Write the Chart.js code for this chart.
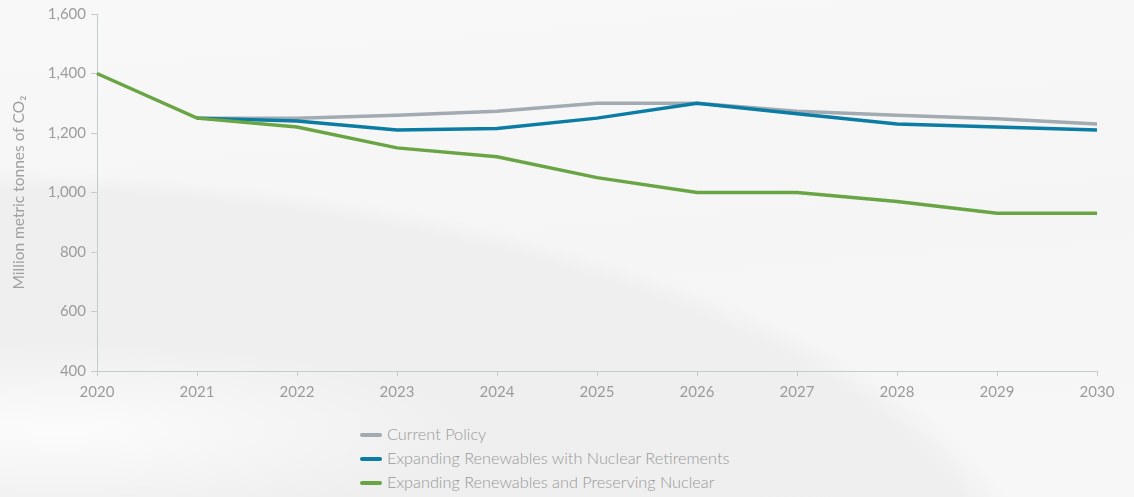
<!DOCTYPE html>
<html>
<head>
<meta charset="utf-8">
<script src="https://cdn.jsdelivr.net/npm/chart.js@4/dist/chart.umd.min.js"></script>
<style>
  html, body { margin: 0; padding: 0; }
  body {
    width: 1134px; height: 497px; overflow: hidden;
    background:
      radial-gradient(ellipse 420px 90px at 60px 430px, rgba(255,255,255,0.8) 0%, rgba(255,255,255,0) 100%),
      radial-gradient(ellipse 1100px 450px at -50px 620px, #eeeeee 0%, #efefef 96%, rgba(239,239,239,0) 100%),
      linear-gradient(175deg, #f8f8f8 0%, #f5f5f5 50%, #f7f7f7 100%);
    font-family: Lato, "Open Sans", sans-serif;
    position: relative;
  }
  #wrap { position: absolute; left: 0; top: 0; width: 1134px; height: 408px; }
  #legend { position: absolute; left: 360px; top: 422px; font-size: 16.3px; color: #999999; font-weight: 300; }
  #legend div { height: 24px; line-height: 24px; white-space: nowrap; }
  #legend span.sw { display: inline-block; width: 22px; height: 4px; border-radius: 2px; vertical-align: middle; margin-right: 5px; position: relative; top: -1px; }
</style>
</head>
<body>
<div id="wrap"><canvas id="chart"></canvas></div>
<div id="legend"></div>
<script>
// years on the x axis
const years = ['2020', '2021', '2022', '2023', '2024', '2025', '2026', '2027', '2028', '2029', '2030'];

// Million metric tonnes of CO2
const currentPolicy = [null, 1250, 1250, 1260, 1273, 1300, 1300, 1273, 1260, 1248, 1230];
const withRetirements = [null, 1250, 1240, 1210, 1215, 1250, 1300, 1265, 1230, 1220, 1210];
const preservingNuclear = [1400, 1250, 1220, 1150, 1120, 1050, 1000, 1000, 970, 930, 930];

const seriesNames = [
  'Current Policy',
  'Expanding Renewables with Nuclear Retirements',
  'Expanding Renewables and Preserving Nuclear'
];
const seriesColors = ['#a2abb1', '#0b7ca3', '#69a544'];

const yMin = 400, yMax = 1600, yStep = 200;

window.onload = function() {
  const ctx = document.getElementById('chart').getContext('2d');
  const values = [currentPolicy, withRetirements, preservingNuclear];
  const tickFont = { family: 'Lato, "Open Sans", sans-serif', size: 15, weight: 400 };

  const chart = new Chart(ctx, {
    type: 'line',
    data: {
      labels: years,
      datasets: values.map((v, i) => ({
        label: seriesNames[i],
        data: v,
        borderColor: seriesColors[i],
        backgroundColor: seriesColors[i],
        borderWidth: 3.5,
        pointRadius: 0,
        tension: 0,
        order: 3 - i
      }))
    },
    options: {
      responsive: true,
      maintainAspectRatio: false,
      animation: false,
      layout: { padding: { top: 8, right: 37, left: 0, bottom: 0 } },
      plugins: {
        legend: { display: false },
        tooltip: { enabled: false }
      },
      scales: {
        x: {
          grid: { drawOnChartArea: false, tickLength: 5, color: '#c3cbcb' },
          border: { color: '#c3cbcb', width: 1 },
          ticks: { color: '#9c9c9c', font: tickFont, padding: 7, maxRotation: 0 }
        },
        y: {
          min: yMin,
          max: yMax,
          afterFit: function(scale) { scale.width = 97; },
          grid: { drawOnChartArea: false, tickLength: 6, color: '#c3cbcb' },
          border: { color: '#c3cbcb', width: 1 },
          ticks: {
            stepSize: yStep,
            color: '#9c9c9c',
            font: tickFont,
            padding: 5,
            callback: function(v) { return v.toLocaleString('en-US'); }
          },
          title: {
            display: true,
            text: 'Million metric tonnes of CO\u2082',
            color: '#a0a0a0',
            font: { family: 'Lato, "Open Sans", sans-serif', size: 15.5, weight: 400 },
            padding: { top: 10, bottom: 0 }
          }
        }
      }
    }
  });

  // stacked legend below the chart
  const legend = document.getElementById('legend');
  chart.data.datasets.forEach(ds => {
    legend.insertAdjacentHTML('beforeend',
      `<div><span class="sw" style="background:${ds.borderColor}"></span>${ds.label}</div>`);
  });
};
</script>
</body>
</html>
